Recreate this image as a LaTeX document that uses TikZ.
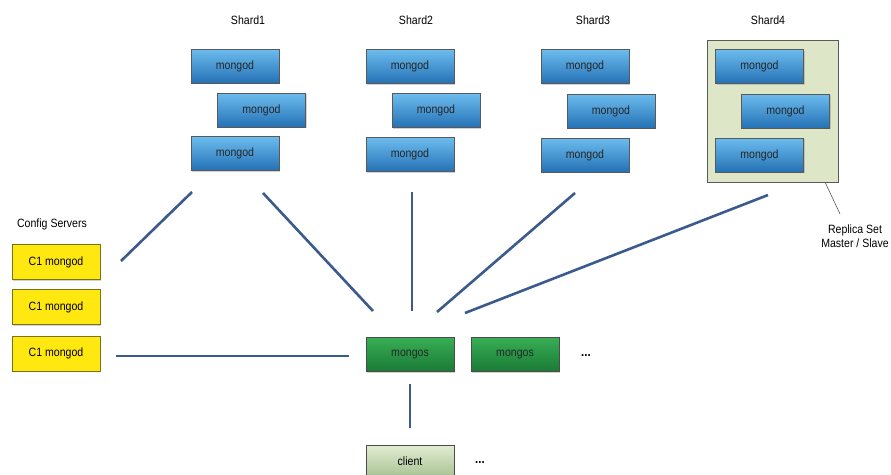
\documentclass[tikz,border=0pt]{standalone}
\usepackage{fontspec}
\setmainfont{Liberation Sans}[FakeStretch=0.88]
\usetikzlibrary{shadows}
\definecolor{linkc}{HTML}{3B5B8C}
\definecolor{bluetop}{HTML}{6CBCEE}
\definecolor{bluebot}{HTML}{2471B5}
\definecolor{greentop}{HTML}{38AE55}
\definecolor{greenbot}{HTML}{1A7A35}
\definecolor{cltop}{HTML}{E2EDD2}
\definecolor{clbot}{HTML}{A9C294}
\definecolor{rsfill}{HTML}{DDE6C6}
\definecolor{cfgfill}{HTML}{FFE80F}
\tikzset{
  box/.style={draw=#1, line width=0.6pt, minimum width=88pt, minimum height=34pt, inner sep=0pt,
    font=\fontsize{12}{13}\selectfont, drop shadow={shadow xshift=1pt,shadow yshift=-1pt,opacity=0.35}},
  mongod/.style={box=gray!70!black, top color=bluetop, bottom color=bluebot, text=black!85},
  cfg/.style={box=olive!80!black, fill=cfgfill, minimum height=35pt},
  mongos/.style={box=gray!60!black, top color=greentop, bottom color=greenbot, text=black!85},
  clientbox/.style={box=gray!60!black, top color=cltop, bottom color=clbot},
  link/.style={draw=linkc, line width=2.6pt},
  lbl/.style={font=\fontsize{12}{14}\selectfont},
}
\begin{document}
\begin{tikzpicture}[x=1pt,y=-1pt]
\useasboundingbox[fill=white] (0,0) rectangle (891,474);
% container
\node[draw=gray!70!black, fill=rsfill, line width=0.8pt, minimum width=131pt, minimum height=142pt, drop shadow={shadow xshift=1pt,shadow yshift=-1pt,opacity=0.3}] (rs) at (772.5,111) {};
% shard labels
\node[lbl] (sh1) at (248,20) {Shard1};
\node[lbl] (sh2) at (416,20) {Shard2};
\node[lbl] (sh3) at (593,20) {Shard3};
\node[lbl] (sh4) at (768,20) {Shard4};
% mongods
\node[mongod] (s1a) at (235,66) {mongod};
\node[mongod] (s1b) at (261.5,110) {mongod};
\node[mongod] (s1c) at (235,153.5) {mongod};
\node[mongod] (s2a) at (410,66.5) {mongod};
\node[mongod] (s2b) at (436,110.5) {mongod};
\node[mongod] (s2c) at (410,154.5) {mongod};
\node[mongod] (s3a) at (585,66.5) {mongod};
\node[mongod] (s3b) at (611,111) {mongod};
\node[mongod] (s3c) at (585,155) {mongod};
\node[mongod] (s4a) at (759.5,66.5) {mongod};
\node[mongod] (s4b) at (785.5,111) {mongod};
\node[mongod] (s4c) at (759.5,155) {mongod};
% replica set label
\node[lbl, align=center] (rsl) at (855,236) {Replica Set\\Master / Slave};
\coordinate (rsa) at (825,182);
\coordinate (rsb) at (840,214);
\draw[gray!70!black, line width=0.6pt] (rsa) -- (rsb);
% config servers
\node[lbl] (cfgl) at (52,224) {Config Servers};
\node[cfg] (c1) at (56,262) {C1 mongod};
\node[cfg] (c2) at (56,307) {C1 mongod};
\node[cfg] (c3) at (56,353.5) {C1 mongod};
% mongos
\node[mongos] (m1) at (410,354.5) {mongos};
\node[mongos] (m2) at (515,354.5) {mongos};
\node[lbl, font=\fontsize{13}{14}\bfseries] (dots1) at (586,356) {...};
% client
\begin{scope}
\clip (0,0) rectangle (891,474);
\node[clientbox, minimum height=32pt] (cl) at (410,461) {client};
\end{scope}
\node[lbl, font=\fontsize{13}{14}\bfseries] (dots2) at (480,463) {...};
% links (gapped)
\coordinate (a1) at (121,261); \coordinate (a2) at (192,192);
\coordinate (b1) at (263,193); \coordinate (b2) at (373,311);
\coordinate (d1) at (412,192); \coordinate (d2) at (412,311);
\coordinate (e1) at (575,193); \coordinate (e2) at (437,312);
\coordinate (f1) at (768,195); \coordinate (f2) at (465,313);
\coordinate (h1) at (116,356); \coordinate (h2) at (349,356);
\coordinate (g1) at (410,384); \coordinate (g2) at (410,428);
\draw[link] (a1) -- (a2);
\draw[link] (b1) -- (b2);
\draw[link] (d1) -- (d2);
\draw[link] (e1) -- (e2);
\draw[link] (f1) -- (f2);
\draw[link] (h1) -- (h2);
\draw[link] (g1) -- (g2);
\end{tikzpicture}
\end{document}
